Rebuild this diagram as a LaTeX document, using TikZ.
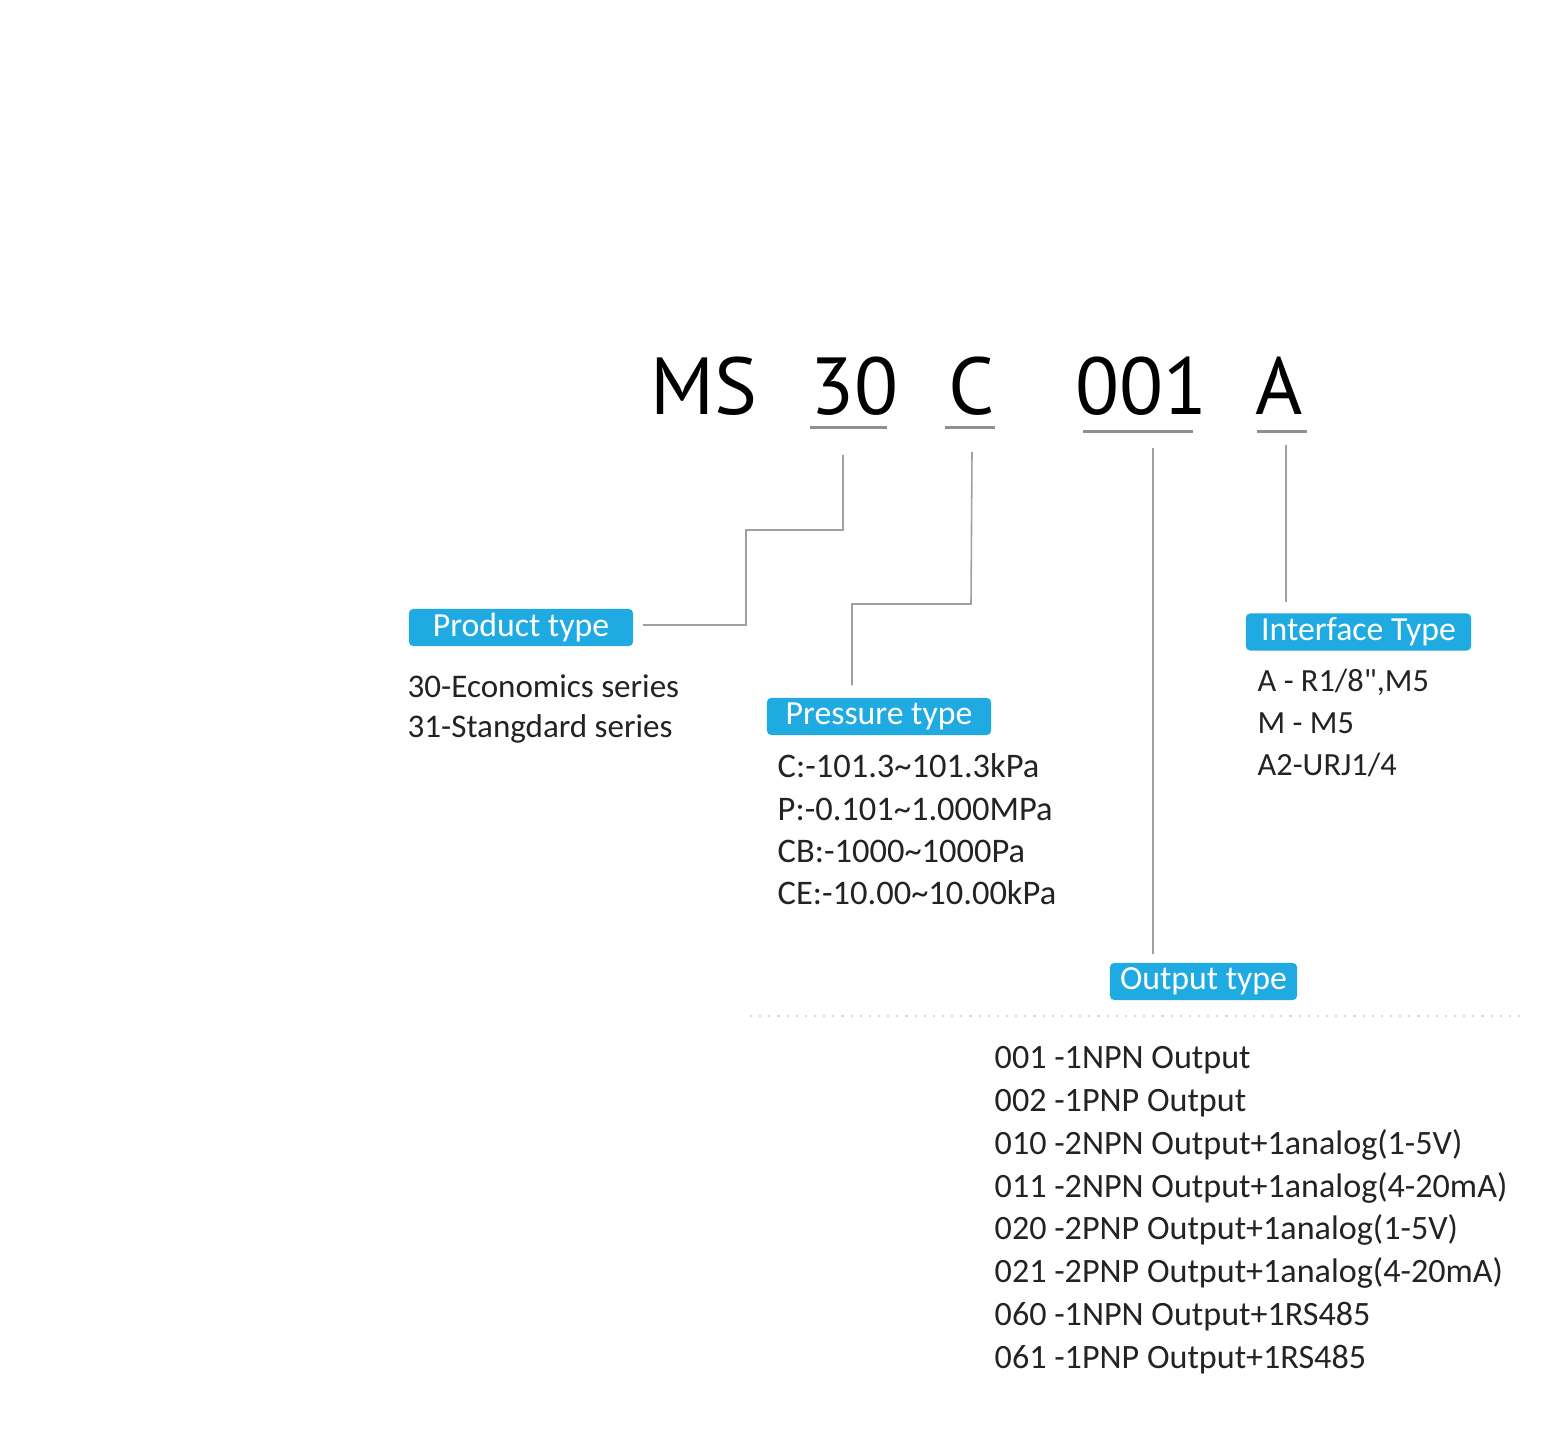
\documentclass[tikz,border=0pt]{standalone}
\usepackage{fontspec}
\setmainfont{Carlito}
\newfontfamily\headfont{PT Sans}
\usetikzlibrary{positioning,calc}
\definecolor{tagblue}{RGB}{32,170,226}
\definecolor{linegray}{RGB}{160,160,160}
\definecolor{txtgray}{RGB}{35,35,35}

\tikzset{
  head/.style={font=\headfont\fontsize{23}{26}\selectfont, text=black, inner sep=0pt, anchor=base west},
  uline/.style={draw=linegray!90!black, line width=0.85pt},
  conn/.style={draw=linegray, line width=0.45pt},
  tag/.style={fill=tagblue, rounded corners=1.2pt, text=white, inner sep=0pt,
    minimum height=0.37cm, font=\fontsize{9.6}{11}\selectfont},
  items/.style={align=left, inner sep=0pt, anchor=base west, text=txtgray}
}

\begin{document}
\begin{tikzpicture}[x=0.01cm, y=-0.01cm]
  \useasboundingbox[fill=white] (0,0) rectangle (1554,1437);

  % model code
  \node[head] (ms) at (650,415) {MS};
  \node[head] (n30) at (810,415) {30};
  \node[head] (cC) at (948,415) {C};
  \node[head] (o001) at (1075,415) {001};
  \node[head] (aA) at (1255,415) {A};

  \draw[uline] (810,428) -- (887,428);
  \draw[uline] (945,428) -- (995,428);
  \draw[uline] (1083,432) -- (1193,432);
  \draw[uline] (1257,432) -- (1307,432);

  % tags
  \node[tag, minimum width=2.24cm] (prod) at (521,627.5) {Product type};
  \node[tag, minimum width=2.24cm] (pres) at (879,716.5) {Pressure type};
  \node[tag, minimum width=1.87cm] (outp) at (1203.5,981.5) {Output type};
  \node[tag, minimum width=2.25cm] (intf) at (1358.5,632) {Interface Type};

  % connectors
  \coordinate (t30) at (843,455);
  \coordinate (tC) at (972,452);
  \coordinate (t001) at (1153,448);
  \coordinate (tA) at (1286,445);
  \draw[conn] (t30) -- (843,530) -- (746,530) -- (746,625) -- ([xshift=0.09cm,yshift=0.025cm]prod.east);
  \draw[conn] (tC) -- (971,604) -- (852,604) -- ([yshift=0.12cm]pres.north -| 852,0);
  \draw[conn] (t001) -- ([yshift=0.08cm]outp.north -| t001);
  \draw[conn] (tA) -- ([yshift=0.11cm]intf.north -| tA);

  % lists (placed at the baseline of their last line)
  \node[items, font=\fontsize{9.4}{11.4}\selectfont] (prodlist) at (407,738)
    {30-Economics series\\31-Stangdard series};
  \node[items, font=\fontsize{9.8}{12.05}\selectfont] (preslist) at (777,905)
    {C:-101.3\textasciitilde101.3kPa\\P:-0.101\textasciitilde1.000MPa\\CB:-1000\textasciitilde1000Pa\\CE:-10.00\textasciitilde10.00kPa};
  \node[items, font=\fontsize{9.2}{11.95}\selectfont] (intflist) at (1257,776)
    {A - R1/8\textquotedbl,M5\\M - M5\\A2-URJ1/4};

  \draw[linegray!40, line width=0.6pt, dotted] (750,1016) -- (1525,1016);

  \node[items, font=\fontsize{9.7}{12.15}\selectfont] (outlist) at (994,1368)
    {001 -1NPN Output\\002 -1PNP Output\\010 -2NPN Output+1analog(1-5V)\\011 -2NPN Output+1analog(4-20mA)\\020 -2PNP Output+1analog(1-5V)\\021 -2PNP Output+1analog(4-20mA)\\060 -1NPN Output+1RS485\\061 -1PNP Output+1RS485};
\end{tikzpicture}
\end{document}
